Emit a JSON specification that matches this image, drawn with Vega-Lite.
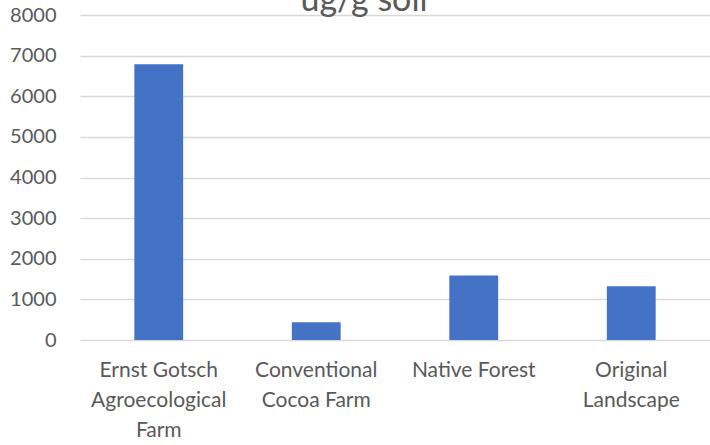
{
  "$schema": "https://vega.github.io/schema/vega-lite/v6.json",
  "width": 630,
  "height": 325,
  "autosize": {"type": "none"},
  "padding": {"left": 80, "top": 15, "right": 0, "bottom": 105},
  "background": "white",
  "config": {
    "view": {"stroke": null},
    "font": "Lato"
  },
  "title": {
    "text": "ug/g soil",
    "fontSize": 34,
    "fontWeight": "normal",
    "color": "#595959",
    "anchor": "middle",
    "frame": "group",
    "baseline": "alphabetic",
    "offset": 0,
    "dx": -31,
    "dy": 40
  },
  "data": {
    "values": [
      {"site": "Ernst Gotsch Agroecological Farm", "value": 6790},
      {"site": "Conventional Cocoa Farm", "value": 437},
      {"site": "Native Forest", "value": 1590},
      {"site": "Original Landscape", "value": 1325}
    ]
  },
  "mark": {"type": "bar", "color": "#4472C4"},
  "encoding": {
    "x": {
      "field": "site",
      "type": "nominal",
      "sort": null,
      "scale": {"paddingInner": 0.69, "paddingOuter": 0.345},
      "axis": {
        "title": null,
        "domain": false,
        "ticks": false,
        "labelAngle": 0,
        "labelFont": "Lato",
        "labelFontSize": 21,
        "labelColor": "#595959",
        "labelBaseline": "top",
        "labelPadding": 19,
        "labelLineHeight": 30,
        "labelLimit": 0,
        "labelExpr": "datum.value == 'Ernst Gotsch Agroecological Farm' ? ['Ernst Gotsch', 'Agroecological', 'Farm'] : datum.value == 'Conventional Cocoa Farm' ? ['Conventional', 'Cocoa Farm'] : datum.value == 'Original Landscape' ? ['Original', 'Landscape'] : datum.value"
      }
    },
    "y": {
      "field": "value",
      "type": "quantitative",
      "scale": {"domain": [0, 8000], "nice": false},
      "axis": {
        "title": null,
        "domain": false,
        "ticks": false,
        "format": "d",
        "values": [0, 1000, 2000, 3000, 4000, 5000, 6000, 7000, 8000],
        "grid": true,
        "gridColor": "#d9d9d9",
        "gridWidth": 1.5,
        "labelFont": "Lato",
        "labelFontSize": 20,
        "labelColor": "#595959",
        "labelPadding": 24
      }
    }
  }
}
